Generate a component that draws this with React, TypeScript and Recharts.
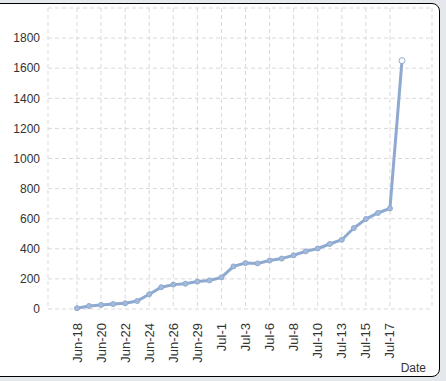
import React from "react";
import { LineChart, Line, XAxis, YAxis, CartesianGrid, Label } from "recharts";

const dates = [
  "Jun-18", "Jun-19", "Jun-20", "Jun-21", "Jun-22", "Jun-23", "Jun-24",
  "Jun-25", "Jun-26", "Jun-27", "Jun-29", "Jun-30", "Jul-1", "Jul-2",
  "Jul-3", "Jul-5", "Jul-6", "Jul-7", "Jul-8", "Jul-9", "Jul-10",
  "Jul-12", "Jul-13", "Jul-14", "Jul-15", "Jul-16", "Jul-17", "Jul-18",
];
const totals = [
  5, 20, 27, 33, 38, 53, 98, 145, 162, 168, 182, 190, 210, 283,
  305, 303, 322, 335, 357, 383, 402, 432, 460, 538, 598, 638, 668, 1650,
];
const yTicks = [0, 200, 400, 600, 800, 1000, 1200, 1400, 1600, 1800];

const LINE = "#8eaad0";
const FONT = "Arial, 'Liberation Sans', sans-serif";

const data = dates.map((d, i) => ({ date: d, total: totals[i] }));

function Dot(props: any) {
  const { cx, cy, index } = props;
  const last = index === data.length - 1;
  return (
    <circle
      key={index}
      cx={cx}
      cy={cy}
      r={last ? 3 : 2.5}
      fill={last ? "#ffffff" : "#a3badb"}
      stroke={LINE}
      strokeWidth={1}
    />
  );
}

function DateTick(props: any) {
  const { x, y, payload } = props;
  const ty = y + 6;
  return (
    <text
      x={x}
      y={ty}
      transform={`rotate(-90, ${x}, ${ty})`}
      textAnchor="end"
      dominantBaseline="central"
      fontSize={13}
      fontFamily={FONT}
      fill="#333"
    >
      {payload.value}
    </text>
  );
}

export default function App() {
  return (
    <div
      style={{
        position: "fixed",
        left: 0,
        top: 0,
        width: 446,
        height: 381,
        background: "#e4e7ec",
        overflow: "hidden",
      }}
    >
      <div
        style={{
          position: "absolute",
          left: -2,
          top: 3,
          width: 440,
          height: 372,
          background: "#fff",
          border: "1px solid #000",
          borderRadius: "0 8px 8px 0",
        }}
      />
      <div style={{ position: "absolute", left: 0, top: 0 }}>
        <LineChart
          width={440}
          height={378}
          data={data}
          margin={{ top: 8, right: 8, left: 0, bottom: 0 }}
        >
          <CartesianGrid stroke="#d9d9d9" strokeDasharray="4 3" />
          <XAxis
            dataKey="date"
            interval={1}
            height={69}
            padding={{ left: 29, right: 30 }}
            axisLine={false}
            tickLine={false}
            tick={<DateTick />}
          >
            <Label
              value="Date"
              position="insideBottomRight"
              offset={6}
              fontSize={12}
              fontFamily={FONT}
              fill="#333"
            />
          </XAxis>
          <YAxis
            width={48}
            domain={[0, 2000]}
            ticks={yTicks}
            axisLine={false}
            tickLine={false}
            tickSize={0}
            tickMargin={8}
            tick={{ fontSize: 12, fontFamily: FONT, fill: "#333" }}
          />
          <Line
            type="linear"
            dataKey="total"
            stroke={LINE}
            strokeWidth={3}
            dot={<Dot />}
            activeDot={false}
            isAnimationActive={false}
          />
        </LineChart>
      </div>
    </div>
  );
}
